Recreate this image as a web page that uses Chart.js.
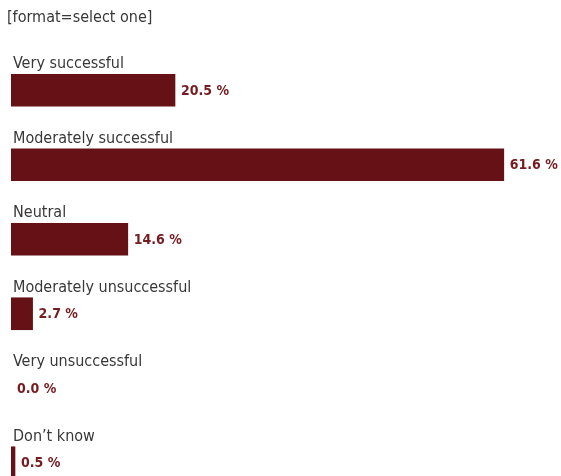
<!DOCTYPE html>
<html>
<head>
<meta charset="utf-8">
<script src="https://cdn.jsdelivr.net/npm/chart.js@4"></script>
<style>
  html, body { margin: 0; padding: 0; background: #fff; overflow: hidden; }
  #wrap { position: relative; width: 561px; height: 502px; }
</style>
</head>
<body>
<div id="wrap"><canvas id="resultsChart"></canvas></div>
<script>
var answers = ['Very successful', 'Moderately successful', 'Neutral', 'Moderately unsuccessful', 'Very unsuccessful', 'Don\u2019t know'];
var percents = [20.5, 61.6, 14.6, 2.7, 0.0, 0.5];
var note = '[format=select one]';

var barColor = '#651116';
var valueColor = '#761c20';
var textFont = '"DejaVu Sans Condensed", "DejaVu Sans", sans-serif';

// category names above each bar, percent labels to the right
var labelPlugin = {
    id: 'barLabels',
    afterDatasetsDraw: function(chart) {
        var ctx = chart.ctx;
        var meta = chart.getDatasetMeta(0);
        ctx.save();
        ctx.fillStyle = '#383838';
        ctx.font = '16px ' + textFont;
        ctx.textBaseline = 'alphabetic';
        ctx.fillText(note, 7, 22);
        meta.data.forEach(function(bar, i) {
            var top = bar.y - bar.height / 2;
            ctx.fillStyle = '#383838';
            ctx.font = '16px ' + textFont;
            ctx.textBaseline = 'alphabetic';
            ctx.fillText(answers[i], 13, top - 6);
            ctx.fillStyle = valueColor;
            ctx.font = 'bold 14px ' + textFont;
            ctx.textBaseline = 'middle';
            ctx.fillText(percents[i].toFixed(1) + ' %', bar.x + 6, bar.y + 1);
        });
        ctx.restore();
    }
};

var ctx = document.getElementById('resultsChart').getContext('2d');
var resultsChart = new Chart(ctx, {
    type: 'bar',
    data: {
        labels: answers,
        datasets: [{
            data: percents,
            // zero-width bars would leave a hairline, so they get no fill
            backgroundColor: percents.map(function(v) { return v > 0 ? barColor : 'rgba(0,0,0,0)'; }),
            borderWidth: 0,
            barThickness: 32
        }]
    },
    options: {
        indexAxis: 'y',
        responsive: true,
        maintainAspectRatio: false,
        animation: false,
        layout: { padding: { top: 53, left: 11, right: 0, bottom: 2 } },
        scales: {
            x: { display: false, min: 0, max: 68.75 },
            y: { display: false }
        },
        plugins: {
            legend: { display: false },
            tooltip: { enabled: false }
        }
    },
    plugins: [labelPlugin]
});
</script>
</body>
</html>
